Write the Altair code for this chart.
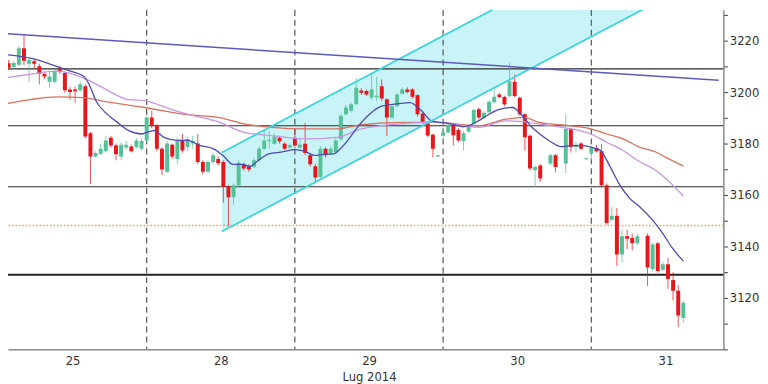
import altair as alt
import pandas as pd

# ---------------- data ----------------
# candle index (30-min bars), 29 bars per session; a few empty slots are missing
candle_k = [0,1,2,3,4,5,6,7,8,9,10,11,12,13,14,15,16,17,18,19,20,21,22,23,24,25,26,27,28,29,
            30,31,32,33,34,35,36,37,38,39,40,41,42,43,44,45,46,47,48,49,50,51,52,53,54,55,56,57,58,59,
            60,61,62,63,64,65,66,67,68,69,70,71,72,73,74,75,76,77,78,79,80,81,82,83,84,85,86,87,88,89,
            90,91,92,93,94,95,96,97,98,99,100,101,102,103,104,106,107,109,110,111,112,113,114,115,116,117,118,119,
            120,121,122,123,125,126,127,128,129,130,131,132]
candle_open = [3211.2,3209.7,3210.6,3217.0,3211.0,3212.0,3210.0,3207.0,3204.0,3204.0,3209.1,3207.4,3201.0,3201.0,3200.7,3202.3,3184.0,3175.0,3176.0,3177.0,
               3182.2,3179.2,3175.0,3178.5,3178.8,3178.6,3178.0,3181.2,3190.1,3186.9,3178.0,3169.0,3179.5,3174.0,3181.2,3178.6,3180.0,3180.0,3172.8,3169.0,
               3172.8,3174.0,3172.8,3163.2,3159.1,3163.8,3171.8,3171.5,3171.0,3173.5,3178.0,3181.0,3179.9,3182.2,3179.9,3178.5,3182.2,3178.5,3179.9,3175.4,
               3171.2,3167.0,3178.0,3176.0,3176.7,3181.8,3191.4,3192.7,3195.3,3200.6,3200.4,3197.8,3198.0,3202.3,3197.2,3190.1,3194.5,3199.3,3201.0,3201.0,
               3198.8,3191.7,3187.9,3183.4,3175.0,3183.0,3184.3,3187.0,3185.3,3181.0,3184.7,3187.6,3193.3,3190.1,3192.2,3196.0,3199.1,3198.1,3198.5,3204.0,
               3197.8,3191.4,3183.0,3169.6,3171.5,3172.2,3175.4,3172.2,3185.6,3178.6,3180.0,3173.9,3176.2,3178.3,3177.0,3163.8,3150.4,3151.9,3136.9,3144.0,
               3143.3,3141.2,3144.2,3131.2,3141.2,3130.9,3133.1,3127.0,3122.8,3112.2]
candle_high = [3212.5,3212.0,3218.0,3222.6,3213.5,3213.0,3211.0,3208.0,3208.0,3209.0,3210.0,3208.0,3202.0,3202.0,3204.2,3203.0,3184.5,3177.0,3180.0,3183.0,
               3183.0,3180.0,3180.5,3181.0,3179.5,3182.0,3182.0,3191.0,3192.7,3187.5,3178.5,3181.0,3180.0,3182.0,3183.7,3182.5,3183.0,3183.7,3173.5,3173.5,
               3176.5,3175.0,3173.5,3164.0,3164.5,3173.5,3172.5,3172.0,3174.5,3179.0,3185.0,3185.0,3184.0,3183.0,3180.5,3180.0,3185.6,3182.0,3188.0,3176.0,
               3172.0,3179.0,3178.5,3179.0,3182.0,3191.5,3195.0,3196.0,3205.5,3201.5,3201.0,3207.4,3206.0,3204.9,3197.5,3195.0,3199.8,3201.8,3201.8,3201.5,
               3199.2,3192.2,3188.3,3183.8,3175.5,3186.3,3188.0,3187.5,3186.0,3184.8,3187.5,3193.5,3194.0,3192.6,3196.8,3201.0,3199.8,3198.6,3211.3,3206.8,
               3198.3,3191.8,3183.5,3171.5,3172.0,3176.0,3176.0,3191.4,3186.2,3180.5,3180.5,3174.5,3179.0,3179.5,3179.9,3164.5,3155.3,3155.0,3146.5,3146.5,
               3145.0,3145.0,3145.0,3141.5,3141.8,3134.0,3135.5,3130.0,3125.0,3119.0]
candle_low = [3208.5,3209.0,3210.0,3210.5,3204.0,3209.0,3203.0,3205.0,3201.7,3203.5,3207.0,3199.7,3197.0,3195.9,3200.0,3182.0,3164.2,3174.5,3175.5,3176.5,
              3178.5,3173.5,3173.5,3177.5,3176.5,3178.0,3177.5,3180.5,3186.0,3177.0,3167.7,3168.5,3174.0,3172.0,3176.5,3177.0,3178.0,3172.0,3168.0,3168.5,
              3172.0,3171.5,3157.0,3147.8,3156.2,3163.0,3169.5,3169.0,3170.5,3173.0,3177.5,3178.0,3179.5,3180.0,3177.5,3178.0,3178.5,3178.0,3175.5,3171.0,
              3164.5,3166.5,3174.5,3175.5,3176.0,3181.0,3190.8,3192.0,3195.0,3199.0,3198.5,3197.0,3196.5,3196.5,3183.0,3189.5,3194.0,3199.0,3199.5,3197.5,
              3190.5,3187.5,3182.5,3174.7,3174.8,3182.5,3184.0,3179.2,3180.5,3177.3,3184.0,3187.0,3189.5,3189.5,3191.5,3195.5,3197.5,3194.5,3198.0,3198.0,
              3190.8,3177.3,3169.5,3163.2,3165.0,3171.5,3168.8,3168.5,3176.5,3176.5,3177.5,3173.5,3173.5,3176.5,3163.0,3148.5,3149.8,3132.4,3133.7,3139.0,
              3138.5,3140.5,3124.7,3130.5,3129.8,3130.5,3123.5,3119.0,3108.7,3110.5]
candle_close = [3209.4,3211.3,3217.0,3212.2,3212.5,3211.0,3207.0,3206.0,3206.0,3208.1,3207.8,3200.7,3200.0,3200.3,3203.0,3182.7,3175.0,3176.3,3178.0,3181.2,
                3179.2,3175.8,3179.5,3179.5,3177.0,3181.2,3181.0,3190.1,3186.9,3178.0,3169.9,3180.0,3175.0,3181.2,3177.3,3181.8,3181.0,3172.8,3169.0,3172.8,
                3175.4,3172.3,3163.2,3159.1,3163.8,3172.5,3170.3,3169.9,3173.5,3178.0,3181.2,3181.5,3182.7,3180.9,3178.0,3179.3,3179.2,3179.5,3176.3,3171.9,
                3166.8,3178.0,3175.4,3178.0,3181.2,3190.8,3194.0,3195.3,3201.7,3199.7,3199.1,3201.0,3198.6,3197.5,3190.1,3194.5,3199.1,3201.0,3200.0,3198.2,
                3191.4,3188.5,3183.1,3178.0,3175.4,3184.3,3187.3,3183.2,3181.2,3184.0,3187.0,3193.0,3190.1,3192.0,3196.2,3198.2,3198.1,3195.3,3204.2,3198.5,
                3191.4,3182.4,3170.3,3170.9,3166.4,3175.4,3170.9,3185.6,3178.6,3179.5,3178.0,3174.3,3178.3,3177.0,3163.8,3149.1,3151.9,3136.9,3144.0,3143.0,
                3141.2,3144.0,3131.8,3140.8,3130.5,3133.1,3127.3,3122.8,3113.2,3118.1]

# moving averages (read as points along each line)
ma_fast_k = [-0.7,4.5,9.4,12.1,14.6,15.9,17.1,19.0,20.9,23.5,26.0,27.0,28.5,30.4,33.0,35.0,37.5,40.0,41.9,43.9,46.1,47.0,48.9,50.9,53.3,
             56.0,57.9,59.8,61.7,63.6,64.9,66.8,68.0,70.6,73.1,76.3,78.5,80.8,82.7,84.6,86.5,89.0,91.9,93.5,96.0,98.6,100.5,102.4,104.3,
             106.2,108.1,110.0,112.0,114.5,115.8,117.7,119.6,121.5,123.4,125.9,127.9,129.8,132.0]
ma_fast_v = [3214.6,3213.1,3210.0,3208.1,3206.2,3202.3,3196.5,3191.9,3188.8,3185.0,3183.7,3184.3,3185.0,3182.4,3181.2,3181.2,3179.2,3178.0,3175.4,3171.9,3171.9,3170.9,3173.5,3176.0,3176.7,
             3177.6,3177.0,3175.4,3175.8,3176.0,3178.0,3182.4,3185.7,3191.4,3194.6,3195.5,3195.9,3192.7,3188.8,3188.2,3187.6,3186.5,3188.8,3190.8,3193.3,3194.0,3190.8,3186.3,3183.1,
             3180.5,3178.8,3179.2,3179.2,3178.3,3177.3,3170.9,3163.8,3158.7,3155.5,3150.4,3145.3,3139.5,3134.3]
ma_mid_k = [-0.7,4.5,9.4,14.6,18.4,23.2,27.0,31.8,35.0,41.3,46.1,51.5,57.9,64.2,69.0,77.6,83.9,91.9,97.3,99.9,103.7,110.0,113.9,117.0,120.2,123.4,126.6,128.5,132.0]
ma_mid_v = [3205.5,3207.0,3208.1,3205.5,3201.7,3197.2,3196.5,3193.3,3191.4,3188.2,3184.3,3183.1,3181.8,3182.4,3185.7,3187.8,3188.2,3186.3,3188.8,3188.6,3187.6,3185.7,3183.7,3180.5,3177.3,3173.0,3169.6,3166.5,3159.6]
ma_slow_k = [-0.7,4.5,9.4,14.6,18.4,26.6,35.0,41.3,46.1,51.5,57.9,64.2,69.0,77.6,83.9,91.9,97.3,101.1,103.7,110.0,113.9,117.0,120.2,123.4,126.6,128.5,132.0]
ma_slow_v = [3195.4,3197.2,3198.1,3197.8,3196.5,3194.0,3191.2,3190.1,3187.6,3186.3,3185.7,3185.7,3187.3,3188.2,3188.2,3186.9,3189.5,3190.1,3188.2,3186.9,3185.7,3183.7,3181.8,3178.6,3176.7,3174.7,3171.2]

# rising channel (two parallel lines with a shaded band)
channel_k = [41.7, 130.0]
channel_low = [3145.8, 3238.3]
channel_high = [3176.5, 3269.0]

# falling trendline
trend_k = [-0.7, 138.9]
trend_v = [3222.7, 3204.6]

# horizontal levels
level_thin = [3209.0, 3186.9, 3163.2]
level_thick = [3129.0]
level_dotted = [3148.1]

# session separators and axis labels
session_sep = [27, 56, 85, 114]
day_ticks = [12.5, 41.5, 70.5, 99.5, 128.5]
day_labels = ["25", "28", "29", "30", "31"]
month_label = "Lug 2014"
month_tick = 70.5
y_ticks = [3100, 3110, 3120, 3130, 3140, 3150, 3160, 3170, 3180, 3190, 3200, 3210, 3220, 3230]

# ---------------- styling ----------------
GREEN = "#55c197"
RED = "#e8161c"
FONT = "DejaVu Sans Condensed, Open Sans, sans-serif"

xs = alt.Scale(domain=[0.84, 138.87], nice=False, zero=False)
ys = alt.Scale(domain=[3100, 3231.9], nice=False, zero=False)

parts = []
for t, lab in zip(day_ticks, day_labels):
    if t == month_tick:
        parts.append(f"datum.value == {t} ? ['{lab}', '{month_label}']")
    else:
        parts.append(f"datum.value == {t} ? '{lab}'")
x_label_expr = " : ".join(parts) + " : ''"

x_axis = alt.Axis(values=day_ticks, labelExpr=x_label_expr, title=None, ticks=False, grid=False,
                  domainColor="#8a8a8a", domainWidth=1.5, labelColor="#333", labelFontSize=13, labelFont=FONT,
                  labelPadding=5, labelLineHeight=16, labelAngle=0, labelOverlap=False, labelFlush=False)
y_axis = alt.Axis(orient="right", values=y_ticks, format="d",
                  labelExpr="datum.value % 20 == 0 && datum.value > 3100 ? datum.label : ''",
                  title=None, grid=False, ticks=True, tickSize=4, tickColor="#333",
                  domainColor="#8a8a8a", domainWidth=1.5, labelColor="#333", labelFontSize=13, labelFont=FONT,
                  labelPadding=2, labelOverlap=False, labelFlush=False)

def X(f):
    return alt.X(f, type="quantitative", scale=xs, axis=x_axis)

def Y(f):
    return alt.Y(f, type="quantitative", scale=ys, axis=y_axis)

candles = pd.DataFrame({"k": candle_k, "o": candle_open, "h": candle_high, "l": candle_low, "c": candle_close})
chan = pd.DataFrame({"k": channel_k, "lo": channel_low, "hi": channel_high})
chan_lines = pd.concat([
    pd.DataFrame({"k": channel_k, "v": channel_low, "s": "low"}),
    pd.DataFrame({"k": channel_k, "v": channel_high, "s": "high"}),
])
mas = pd.concat([
    pd.DataFrame({"k": ma_slow_k, "v": ma_slow_v, "s": "slow"}),
    pd.DataFrame({"k": ma_mid_k, "v": ma_mid_v, "s": "mid"}),
    pd.DataFrame({"k": ma_fast_k, "v": ma_fast_v, "s": "fast"}),
])
trend = pd.DataFrame({"k": trend_k, "v": trend_v})

color_cond = alt.condition("datum.c >= datum.o", alt.value(GREEN), alt.value(RED))

band = alt.Chart(chan).mark_area(color="#c9f4f7", opacity=1, clip=True).encode(
    x=X("k"), y=Y("lo"), y2="hi")

seps = alt.Chart(pd.DataFrame({"k": session_sep})).mark_rule(
    color="#555", strokeDash=[6, 4], strokeWidth=1.2, clip=True).encode(x=X("k"))

dotted = alt.Chart(pd.DataFrame({"v": level_dotted})).mark_rule(
    color="#f0a040", strokeDash=[1.5, 2], strokeWidth=1.5, clip=True).encode(y=Y("v"))

thin = alt.Chart(pd.DataFrame({"v": level_thin})).mark_rule(
    color="#2a2a2a", strokeWidth=1.2, clip=True).encode(y=Y("v"))

thick = alt.Chart(pd.DataFrame({"v": level_thick})).mark_rule(
    color="#222", strokeWidth=2, clip=True).encode(y=Y("v"))

wicks = alt.Chart(candles).mark_rule(strokeWidth=1, opacity=0.75, clip=True).encode(
    x=X("k"), y=Y("l"), y2="h", color=color_cond)

bodies = alt.Chart(candles).mark_bar(size=4, orient="vertical", clip=True).encode(
    x=X("k"), y=Y("o"), y2="c", color=color_cond)

ma_lines = alt.Chart(mas).mark_line(strokeWidth=1.3, clip=True, interpolate="monotone").encode(
    x=X("k"), y=Y("v"), detail="s:N",
    color=alt.Color("s:N", scale=alt.Scale(domain=["slow", "mid", "fast"],
                                           range=["#d9705e", "#c896e6", "#4b4bb5"]), legend=None))

channel = alt.Chart(chan_lines).mark_line(color="#3dd4dd", strokeWidth=1.8, clip=True).encode(
    x=X("k"), y=Y("v"), detail="s:N")

trendline = alt.Chart(trend).mark_line(color="#5a5ac0", strokeWidth=1.5, clip=True).encode(
    x=X("k"), y=Y("v"))

chart = alt.layer(band, seps, dotted, thin, thick, wicks, bodies, ma_lines, channel, trendline).properties(
    width=723, height=343,
    autosize=alt.AutoSizeParams(type="none"),
    padding={"left": 0, "top": 0, "right": 37, "bottom": 33},
    background="white",
).configure_view(stroke=None)

chart.save("out.html", embed_options={"renderer": "svg", "actions": False})
